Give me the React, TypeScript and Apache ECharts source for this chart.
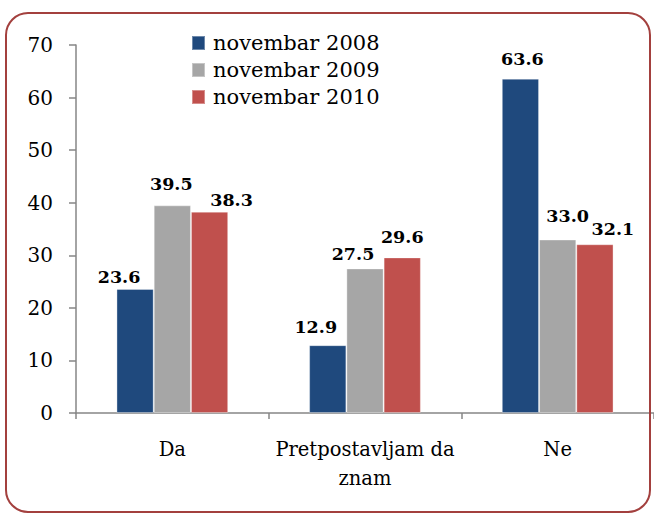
import React, { useEffect, useRef } from "react";
import * as echarts from "echarts";

const categories = ["Da", "Pretpostavljam da\nznam", "Ne"];
const seriesNames = ["novembar 2008", "novembar 2009", "novembar 2010"];
const values2008 = [23.6, 12.9, 63.6];
const values2009 = [39.5, 27.5, 33.0];
const values2010 = [38.3, 29.6, 32.1];
const yTicks = { min: 0, max: 70, interval: 10 };

const colors = ["#1F497D", "#A6A6A6", "#C0504D"];
// manual label nudges (as in the original), per series per category
const labelOffsets = [
  [[-16, 2], [-12, -4], [2, -6]],
  [[-1, -7], [-12, 0], [10, -10]],
  [[22, 2], [0, -6], [18, -1]],
];

const FONT = "DejaVu Serif";

export default function App() {
  const ref = useRef<HTMLDivElement>(null);
  useEffect(() => {
    if (!ref.current) return;
    const chart = echarts.init(ref.current, undefined, { renderer: "svg" });
    const all = [values2008, values2009, values2010];
    chart.setOption({
      animation: false,
      textStyle: { fontFamily: FONT },
      grid: { left: 76, top: 45, width: 585, height: 368, containLabel: false },
      legend: {
        orient: "vertical",
        left: 186,
        top: 26,
        itemWidth: 13,
        itemHeight: 14,
        itemGap: 3,
        icon: "rect",
        data: seriesNames,
        textStyle: { fontFamily: FONT, fontSize: 21, color: "#000", lineHeight: 24, padding: [0, 0, 0, 3] },
      },
      xAxis: {
        type: "category",
        data: categories,
        axisLine: { lineStyle: { color: "#868686", width: 1.5 } },
        axisTick: { show: true, length: 6, lineStyle: { color: "#868686", width: 1.5 } },
        axisLabel: { interval: 0, fontFamily: FONT, fontSize: 19.5, color: "#000", margin: 22, lineHeight: 29 },
      },
      yAxis: {
        type: "value",
        min: yTicks.min,
        max: yTicks.max,
        interval: yTicks.interval,
        splitLine: { show: false },
        axisLine: { show: true, lineStyle: { color: "#868686", width: 1.5 } },
        axisTick: { show: true, length: 7, lineStyle: { color: "#868686", width: 1.5 } },
        axisLabel: { fontFamily: FONT, fontSize: 20, color: "#000", margin: 23 },
      },
      series: seriesNames.map((name, si) => ({
        name,
        type: "bar",
        barGap: "0%",
        barCategoryGap: "42%",
        itemStyle: { color: colors[si], borderColor: "rgba(255,255,255,0.35)", borderWidth: 1 },
        data: all[si].map((v, ci) => ({
          value: v,
          label: { offset: labelOffsets[si][ci] },
        })),
        label: {
          show: true,
          position: "top",
          distance: 5,
          fontFamily: FONT,
          fontWeight: "bold",
          fontSize: 17.5,
          color: "#000",
          formatter: (p: any) => Number(p.value).toFixed(1),
        },
      })),
      graphic: [
        {
          type: "rect",
          shape: { x: 6, y: 13, width: 644, height: 499, r: 22 },
          style: { fill: "none", stroke: "#A3403E", lineWidth: 2 },
          silent: true,
          z: 100,
        },
      ],
    });
    return () => chart.dispose();
  }, []);
  return (
    <div
      ref={ref}
      style={{ position: "fixed", left: 0, top: 0, width: 654, height: 516, background: "#fff" }}
    />
  );
}
